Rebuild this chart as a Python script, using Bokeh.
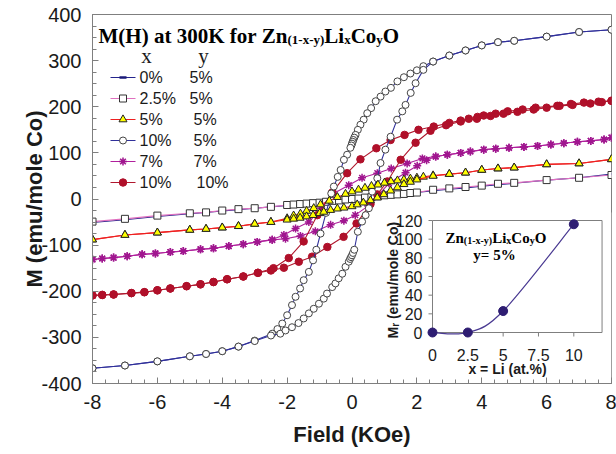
import numpy as np
from bokeh.plotting import figure
from bokeh.models import Range1d, FixedTicker, Title
from bokeh.core.properties import value
from bokeh.embed import file_html
from bokeh.resources import INLINE

# ---------------- data ----------------
field_ticks = [-8, -6, -4, -2, 0, 2, 4, 6, 8]
m_ticks = [-400, -300, -200, -100, 0, 100, 200, 300, 400]

# x=0%, y=5%
h_0_5 = [-8, -7, -6, -5, -4.5, -4, -3.5, -3, -2.5, -2, -1.5, -1.2, -1.0, -0.8, -0.6, -0.5, -0.4, -0.3, -0.2, -0.1,
         0, 0.1, 0.2, 0.3, 0.4, 0.5, 0.6, 0.8, 1.0, 1.2, 1.5, 2, 2.5, 3, 3.5, 4, 4.5, 5, 6, 7, 8]
m_0_5 = [-51, -45, -38, -32, -29, -26, -23, -20, -17, -14, -11, -9, -8, -7, -6, -5, -4, -3, -2, -1,
         0, 1, 2, 3, 4, 5, 6, 7, 8, 9, 11, 14, 18, 21, 24, 28, 31, 34, 41, 46, 54]

# x=2.5%, y=5%
h_25_5 = [-8, -7, -6, -5, -4.5, -4, -3.5, -3, -2.5, -2, -1.8, -1.6, -1.4, -1.2, -1.0, -0.8, -0.6, -0.4, -0.2,
          0, 0.2, 0.4, 0.6, 0.8, 1.0, 1.2, 1.4, 1.6, 1.8, 2, 2.5, 3, 3.5, 4, 4.5, 5, 6, 7, 8]
m_25_5 = [-49, -43, -36, -31, -29, -25, -22, -20, -17, -13, -12, -11, -10, -9, -8, -6, -4, -3, -1,
          0, 1, 3, 4, 6, 8, 9, 10, 11, 13, 14, 20, 23, 26, 29, 33, 35, 41, 46, 52]

# x=5%, y=5%  (descending / ascending sweeps)
h_5_5_dn = [8, 7, 6, 5, 4.5, 4, 3.5, 3, 2.5, 2.2, 2.0, 1.8, 1.6, 1.4, 1.2, 1.0, 0.8, 0.6, 0.4, 0.2,
            0.0, -0.2, -0.45, -0.7, -0.97, -1.18, -1.4, -1.59, -1.8, -2.0, -2.5, -3, -3.5, -4, -4.5, -5, -6, -7, -8]
m_5_5_dn = [86, 77, 75, 68, 66, 63, 57, 54, 51, 48, 46, 44, 42, 40, 38, 35, 31, 28, 24, 20,
            16, 11, 4, -4, -12, -20, -26, -32, -36, -42, -50, -54, -59, -62, -65, -67, -73, -78, -88]
h_5_5_up = [-8, -7, -6, -5, -4.5, -4, -3.5, -3, -2.5, -2.0, -1.8, -1.6, -1.4, -1.2, -1.0, -0.87, -0.66, -0.45, -0.25,
            0.0, 0.16, 0.35, 0.57, 0.78, 0.98, 1.19, 1.4, 1.6, 1.8, 2.0, 2.5, 3, 3.5, 4, 4.5, 5, 6, 7, 8]
m_5_5_up = [-88, -78, -73, -67, -65, -62, -59, -54, -50, -45, -43, -41, -38, -35, -31, -28, -24, -21, -19,
            -16, -12, -8, -3, 3, 10, 18, 25, 32, 37, 42, 50, 54, 57, 63, 66, 68, 75, 77, 86]

# x=10%, y=5%
h_10_5_dn = [8, 7, 6, 5, 4.5, 4, 3.5, 3, 2.5, 2.2, 2.0, 1.8, 1.6, 1.4, 1.2, 1.03, 0.88, 0.73, 0.59, 0.47, 0.36,
             0.26, 0.18, 0.11, 0.07, 0.04, 0.02, 0.0, -0.02, -0.05, -0.15, -0.25, -0.35, -0.44, -0.56, -0.64,
             -0.8, -0.97, -1.1, -1.2, -1.33, -1.49, -1.6, -1.74, -1.85, -2.0, -2.15, -2.3, -2.46,
             -3, -3.5, -4, -4.5, -5, -6, -7, -8]
m_10_5_dn = [367, 362, 352, 343, 340, 333, 322, 311, 298, 288, 279, 272, 264, 255, 241, 233, 222, 212, 197, 186, 172,
             161, 150, 139, 133, 128, 124, 120, 116, 111, 96, 85, 63, 48, 27, 12,
             -30, -75, -110, -133, -158, -176, -194, -212, -230, -252, -270, -282, -292,
             -307, -320, -330, -336, -341, -352, -361, -367]
h_10_5_up = [-8, -7, -6, -5, -4.5, -4, -3.5, -3, -2.5, -2.21, -2.05, -1.85, -1.65, -1.49, -1.33, -1.18, -1.02,
             -0.87, -0.77, -0.61, -0.51, -0.41, -0.3, -0.2, -0.1, -0.06, -0.03, 0.0, 0.03, 0.07, 0.18, 0.31,
             0.42, 0.52, 0.62, 0.78, 0.88, 1.03, 1.19, 1.39, 1.55, 1.65, 1.81, 1.96, 2.2, 2.5,
             3, 3.5, 4, 4.5, 5, 6, 7, 8]
m_10_5_up = [-367, -361, -352, -341, -336, -330, -320, -308, -296, -292, -285, -278, -269, -259, -248, -238, -227,
             -216, -205, -191, -183, -172, -162, -147, -136, -130, -126, -122, -117, -110, -71, -49,
             -35, -20, 16, 45, 78, 107, 135, 172, 190, 204, 230, 251, 280, 298,
             311, 322, 333, 340, 343, 352, 362, 367]

# x=7%, y=7%
h_7_7_dn = [8, 7.77, 7.36, 6.95, 6.53, 6.13, 5.72, 5.3, 4.84, 4.43, 4.06, 3.65, 3.35, 2.94, 2.58, 2.17, 1.7, 1.21,
            0.78, 0.31, -0.1, -0.57, -0.95, -1.33, -1.74, -2.1, -2.46, -2.92, -3.35, -3.8, -4.27, -4.67, -5.2,
            -5.6, -6.06, -6.47, -6.93, -7.35, -7.7, -8]
m_7_7_dn = [133, 129, 126, 124, 121, 118, 115, 113, 111, 109, 107, 103, 100, 96, 92, 88, 77, 66,
            56, 46, 30, 12, -20, -50, -64, -78, -88, -93, -98, -102, -107, -109, -113,
            -115, -118, -120, -124, -127, -129, -131]
h_7_7_up = [-8, -7.7, -7.35, -6.93, -6.47, -6.06, -5.6, -5.2, -4.67, -4.27, -3.8, -3.35, -2.92, -2.46, -2.05,
            -1.59, -1.13, -0.66, -0.25, 0.1, 0.5, 0.8, 1.14, 1.65, 2.01, 2.3, 2.58, 2.94, 3.35, 3.65, 4.06,
            4.43, 4.84, 5.3, 5.72, 6.13, 6.53, 6.95, 7.36, 7.77, 8]
m_7_7_up = [-131, -129, -127, -124, -120, -118, -115, -113, -109, -107, -102, -98, -93, -89, -86,
            -80, -70, -56, -47, -35, -15, 8, 34, 57, 72, 84, 92, 96, 100, 103, 107,
            109, 111, 113, 115, 118, 121, 124, 126, 129, 133]

# x=10%, y=10%
h_10_10_dn = [8, 7.6, 7.15, 6.75, 6.33, 5.66, 5.26, 4.8, 4.43, 4.06, 3.87, 3.6, 3.35, 3.0, 2.52, 2.05, 1.62, 1.19,
              0.75, 0.26, -0.15, -0.61, -1.07, -1.49, -1.95, -2.42, -2.9, -3.35, -3.85, -4.27, -4.67, -5.1,
              -5.6, -6.0, -6.4, -6.8, -7.35, -7.7, -8]
m_10_10_dn = [213, 211, 209, 206, 202, 198, 194, 190, 185, 181, 178, 174, 170, 165, 157, 150, 139, 128,
              110, 86, 56, 14, -35, -92, -128, -150, -160, -168, -174, -180, -185, -189,
              -194, -198, -202, -204, -207, -208, -209]
h_10_10_up = [-8, -7.7, -7.35, -6.8, -6.4, -6.0, -5.6, -5.1, -4.67, -4.27, -3.85, -3.35, -2.9, -2.5, -2.1, -1.64,
              -1.23, -0.76, -0.26, 0.14, 0.57, 0.78, 1.09, 1.5, 1.96, 2.42, 2.9, 3.35, 3.85, 4.27, 4.67, 5.1,
              5.6, 6.0, 6.4, 6.8, 7.35, 7.7, 8]
m_10_10_up = [-209, -208, -207, -204, -202, -198, -194, -189, -185, -180, -174, -168, -160, -155, -149, -136,
              -125, -104, -82, -53, -11, 10, 38, 85, 122, 148, 160, 168, 174, 180, 185, 189,
              194, 198, 202, 204, 207, 210, 213]

legend_x_text = ["0%", "2.5%", "5%", "10%", "7%", "10%"]
legend_y_text = ["5%", "5%", "5%", "5%", "7%", "10%"]

# inset: remanence vs Li content (y = 5%)
inset_li = [0, 2.5, 5, 10]
inset_mr = [0, 0, 23, 116]
inset_x_ticks = [0, 2.5, 5, 7.5, 10]
inset_x_labels = ["0", "2.5", "5", "7.5", "10"]
inset_y_ticks = [0, 20, 40, 60, 80, 100, 120]
inset_x_max = 12
inset_y_max = 120

# ---------------- layout helpers (picture pixel -> data) ----------------
FL, FR, FT, FB = 92.0, 611.0, 14.0, 383.0


def fx(px):
    return -8 + (px - FL) * 16.0 / (FR - FL)


def fy(py):
    return 400 - (py - FT) * 800.0 / (FB - FT)


IX0, IXS = 432.0, 14.13   # inset x=0 pixel, px per unit
IY0, IYS = 332.0, 0.9333  # inset y=0 pixel, px per unit

SANS = "Liberation Sans"
SERIF = "Liberation Serif"
GRAY = "#7f7f7f"
INK = "#1a1a1a"

p = figure(frame_width=519, frame_height=369,
           x_range=Range1d(-8, 8), y_range=Range1d(-400, 400),
           output_backend="svg", toolbar_location=None,
           min_border_left=92, min_border_right=5, min_border_top=14, min_border_bottom=71)
p.extra_x_ranges = {"ix": Range1d((FL - IX0) / IXS, (FR - IX0) / IXS)}
p.extra_y_ranges = {"iy": Range1d((IY0 - FB) / IYS, (IY0 - FT) / IYS)}

p.xgrid.visible = False
p.ygrid.visible = False
p.outline_line_color = GRAY
p.outline_line_width = 1
p.background_fill_color = "white"
p.border_fill_color = "white"

p.xaxis.ticker = FixedTicker(ticks=field_ticks, minor_ticks=[-8 + 0.4 * i for i in range(41)])
p.yaxis.ticker = FixedTicker(ticks=m_ticks, minor_ticks=list(range(-400, 401, 25)))
p.xaxis.major_label_overrides = {v: str(v) for v in field_ticks}
p.yaxis.major_label_overrides = {v: str(v) for v in m_ticks}
for ax in (p.xaxis[0], p.yaxis[0]):
    ax.axis_line_color = GRAY
    ax.major_tick_line_color = GRAY
    ax.minor_tick_line_color = GRAY
    ax.major_tick_in = 6
    ax.major_tick_out = 0
    ax.minor_tick_in = 4
    ax.minor_tick_out = 0
    ax.major_label_text_font = SANS
    ax.major_label_text_font_size = "20px"
    ax.major_label_text_color = INK
p.xaxis.major_label_standoff = 11
p.yaxis.major_label_standoff = 11
p.xaxis.axis_label = "Field (KOe)"
p.xaxis.axis_label_text_font = SANS
p.xaxis.axis_label_text_font_style = "bold"
p.xaxis.axis_label_text_font_size = "22px"
p.xaxis.axis_label_text_color = INK
p.xaxis.axis_label_standoff = 10

p.add_layout(Title(text="M (emu/mole Co)", align="center", offset=43, vertical_align="middle", standoff=-18,
                   text_font=SANS, text_font_style="bold", text_font_size="22px", text_color=INK), "left")

# ---------------- series styles ----------------
styles = {
    "0_5": dict(line="#24248c", marker="dash", size=7, fill="#1a1a78", edge="#1a1a78", mlw=2.5),
    "25_5": dict(line="#e070bf", marker="square", size=7, fill="white", edge="#333333", mlw=1),
    "5_5": dict(line="#ee2020", marker="triangle", size=8, fill="#ffff00", edge="#222222", mlw=1),
    "10_5": dict(line="#30309a", marker="circle", size=7, fill="white", edge="#444444", mlw=1),
    "7_7": dict(line="#b0209c", marker="asterisk", size=8, fill="#a0168f", edge="#a0168f", mlw=1.5),
    "10_10": dict(line="#b0182e", marker="circle", size=7.5, fill="#b0102a", edge="#b0102a", mlw=1),
}


def draw(hx, my, st):
    p.line(hx, my, line_color=st["line"], line_width=1.1)
    p.scatter(hx, my, marker=st["marker"], size=st["size"], fill_color=st["fill"],
              line_color=st["edge"], line_width=st["mlw"])


draw(h_0_5, m_0_5, styles["0_5"])
draw(h_25_5, m_25_5, styles["25_5"])
draw(h_7_7_dn, m_7_7_dn, styles["7_7"])
draw(h_7_7_up, m_7_7_up, styles["7_7"])
draw(h_10_10_dn, m_10_10_dn, styles["10_10"])
draw(h_10_10_up, m_10_10_up, styles["10_10"])
draw(h_10_5_dn, m_10_5_dn, styles["10_5"])
draw(h_10_5_up, m_10_5_up, styles["10_5"])
draw(h_5_5_dn, m_5_5_dn, styles["5_5"])
draw(h_5_5_up, m_5_5_up, styles["5_5"])

# ---------------- title with subscripts ----------------
TB = {' ': 250, '(': 333, ')': 333, '-': 333, '0': 500, '1': 500, '3': 500, '5': 500, '%': 1000, '=': 570,
      'C': 722, 'H': 778, 'K': 778, 'L': 667, 'M': 944, 'O': 778, 'Z': 667, 'a': 500, 'f': 333,
      'i': 278, 'n': 556, 'o': 500, 'r': 444, 't': 333, 'x': 500, 'y': 500}


def tw(s, size, table):
    return sum(table.get(c, 556) for c in s) * size / 1000.0


def rich(parts, x0, base, size, sub, sub_drop, font, style, table):
    x = x0
    for txt, is_sub in parts:
        fs = sub if is_sub else size
        yb = base + (sub_drop if is_sub else 0)
        p.text(x=[fx(x)], y=[fy(yb)], text=[txt.strip()], text_font=value(font), text_font_style=style,
               text_font_size=value(f"{fs}px"), text_align="left", text_baseline="alphabetic",
               text_color="black")
        x += tw(txt, fs, table)


formula = [("Zn", False), ("(1-x-y)", True), ("Li", False), ("x", True), ("Co", False), ("y", True), ("O", False)]
rich([("M(H) at 300K for ", False)] + formula, 98, 35, 21, 13, 4, SERIF, "bold", TB)

# ---------------- manual legend ----------------
p.text(x=[fx(146), fx(203)], y=[fy(55), fy(55)], text=["x", "y"], text_font=value(SERIF),
       text_font_size=value("21px"), text_align="center", text_baseline="middle", text_color=INK)
order = ["0_5", "25_5", "5_5", "10_5", "7_7", "10_10"]
col2_px = [189, 189, 193, 193, 193, 196]
for i, key in enumerate(order):
    st = styles[key]
    ry = 77 + 21 * i
    p.line([fx(110), fx(135)], [fy(ry), fy(ry)], line_color=st["line"], line_width=1.1)
    p.scatter([fx(122.5)], [fy(ry)], marker=st["marker"], size=st["size"], fill_color=st["fill"],
              line_color=st["edge"], line_width=st["mlw"])
    p.text(x=[fx(139), fx(col2_px[i])], y=[fy(ry), fy(ry)], text=[legend_x_text[i], legend_y_text[i]],
           text_font=value(SANS), text_font_size=value("16px"), text_align="left",
           text_baseline="middle", text_color=INK)

# ---------------- inset ----------------
p.quad(left=[fx(380)], right=[fx(611)], bottom=[fy(383)], top=[fy(212)], fill_color="white", line_color=None)
IR = dict(x_range_name="ix", y_range_name="iy")
p.quad(left=[0], right=[inset_x_max], bottom=[0], top=[inset_y_max], fill_color="white",
       line_color=GRAY, line_width=1, **IR)
p.segment(x0=inset_x_ticks, y0=[0] * len(inset_x_ticks), x1=inset_x_ticks,
          y1=[-4 / IYS] * len(inset_x_ticks), line_color=GRAY, **IR)
p.segment(x0=[0] * len(inset_y_ticks), y0=inset_y_ticks, x1=[-4 / IXS] * len(inset_y_ticks),
          y1=inset_y_ticks, line_color=GRAY, **IR)
p.text(x=inset_x_ticks, y=[-(354 - IY0) / IYS] * len(inset_x_ticks), text=inset_x_labels,
       text_font=value(SANS), text_font_size=value("16px"), text_align="center", text_baseline="middle",
       text_color=INK, **IR)
p.text(x=[-(IX0 - 422) / IXS] * len(inset_y_ticks), y=inset_y_ticks, text=[str(v) for v in inset_y_ticks],
       text_font=value(SANS), text_font_size=value("16px"), text_align="right", text_baseline="middle",
       text_color=INK, **IR)

# smooth (Catmull-Rom) connecting curve through the inset points, as in the original
xs, ys = inset_li, inset_mr
n = len(xs)
bx0, by0, bx1, by1, cx0, cy0, cx1, cy1 = [], [], [], [], [], [], [], []
for i in range(n - 1):
    a = max(i - 1, 0)
    d = min(i + 2, n - 1)
    bx0.append(xs[i]); by0.append(ys[i]); bx1.append(xs[i + 1]); by1.append(ys[i + 1])
    cx0.append(xs[i] + (xs[i + 1] - xs[a]) / 6.0); cy0.append(ys[i] + (ys[i + 1] - ys[a]) / 6.0)
    cx1.append(xs[i + 1] - (xs[d] - xs[i]) / 6.0); cy1.append(ys[i + 1] - (ys[d] - ys[i]) / 6.0)
p.bezier(x0=bx0, y0=by0, x1=bx1, y1=by1, cx0=cx0, cy0=cy0, cx1=cx1, cy1=cy1,
         line_color="#4a3a92", line_width=1.2, **IR)
p.scatter(inset_li, inset_mr, marker="circle", size=9, fill_color="#2e1d72", line_color="#2e1d72", **IR)

# inset axis titles
p.text(x=[fx(507)], y=[fy(368)], text=["x = Li (at.%)"], text_font=value(SANS), text_font_style="bold",
       text_font_size=value("14px"), text_align="center", text_baseline="middle", text_color=INK)
AB = {'M': 833, 'r': 389, ' ': 278, '(': 333, ')': 333, 'e': 556, 'm': 889, 'u': 611, '/': 278,
      'o': 611, 'l': 278, 'C': 722}
ylab_parts = [("M", 14, 392), ("r", 10, 395), (" ", 14, 392), ("(emu/mole Co)", 14, 392)]
yy = 338.0
for txt, fs, bx in ylab_parts:
    if txt.strip():
        p.text(x=[fx(bx)], y=[fy(yy)], text=[txt], angle=np.pi / 2, text_font=value(SANS),
               text_font_style="bold", text_font_size=value(f"{fs}px"), text_align="left",
               text_baseline="alphabetic", text_color=INK)
    yy -= sum(AB.get(c, 556) for c in txt) * fs / 1000.0

# inset title
rich(formula, 445, 237, 15, 10, 3, SERIF, "bold", TB)
p.text(x=[fx(494)], y=[fy(254)], text=["y= 5%"], text_font=value(SERIF), text_font_style="bold",
       text_font_size=value("15px"), text_align="center", text_baseline="alphabetic", text_color="black")

open("out.html", "w").write(file_html(p, INLINE))
